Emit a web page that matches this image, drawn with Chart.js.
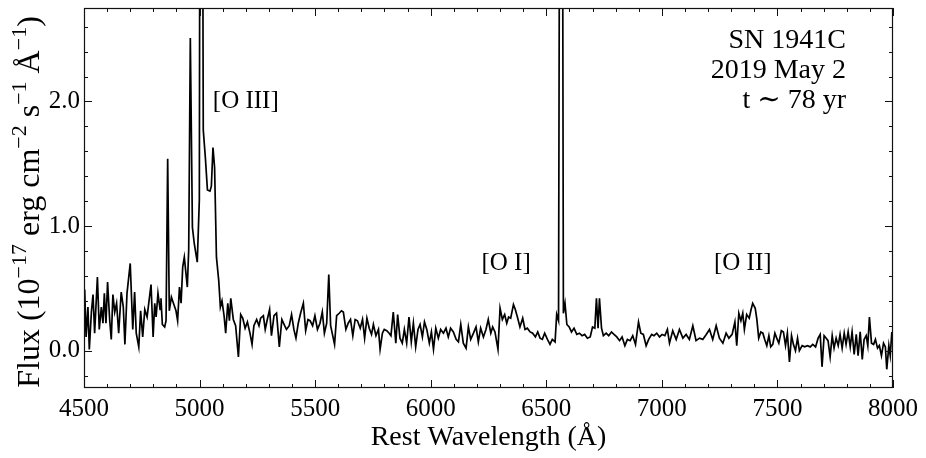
<!DOCTYPE html>
<html>
<head>
<meta charset="utf-8">
<script src="https://cdn.jsdelivr.net/npm/chart.js@4.4.1/dist/chart.umd.min.js"></script>
<style>
  html, body { margin: 0; padding: 0; background: #fff; }
</style>
</head>
<body>
<canvas id="chart" width="926" height="458"></canvas>
<script>
// rest wavelength (A) and flux (1e-17 erg/cm2/s/A)
const wave = [
  4503, 4509, 4517, 4523, 4532, 4539, 4546, 4558, 4566, 4575, 4582, 4588, 4595, 4602, 4611, 4618,
  4625, 4633, 4641, 4650, 4661, 4670, 4677, 4686, 4700, 4711, 4719, 4726, 4737, 4745, 4754, 4763,
  4773, 4780, 4790, 4799, 4806, 4812, 4820, 4829, 4833, 4839, 4849, 4855, 4862, 4869, 4878, 4887,
  4898, 4905, 4913, 4920, 4927, 4934, 4940, 4947, 4953, 4960, 4969, 4977, 4990, 4999, 5003, 5010,
  5016, 5025, 5034, 5045, 5051, 5058, 5065, 5073, 5083, 5090, 5097, 5106, 5113, 5122, 5129, 5135,
  5146, 5156, 5168, 5178, 5187, 5197, 5207, 5218, 5227, 5235, 5247, 5257, 5264, 5276, 5284, 5293,
  5303, 5311, 5322, 5333, 5345, 5356, 5368, 5376, 5388, 5398, 5408, 5417, 5427, 5437, 5449, 5459,
  5469, 5478, 5489, 5499, 5510, 5521, 5531, 5540, 5550, 5559, 5567, 5576, 5584, 5593, 5604, 5614,
  5622, 5633, 5643, 5653, 5663, 5673, 5683, 5695, 5705, 5714, 5724, 5734, 5744, 5752, 5763, 5774,
  5781, 5791, 5799, 5810, 5820, 5828, 5838, 5849, 5857, 5867, 5877, 5886, 5896, 5906, 5916, 5925,
  5935, 5945, 5954, 5964, 5973, 5983, 5994, 6003, 6012, 6022, 6033, 6043, 6055, 6066, 6076, 6086,
  6098, 6110, 6120, 6130, 6141, 6153, 6163, 6173, 6185, 6196, 6206, 6216, 6228, 6239, 6249, 6260,
  6268, 6278, 6291, 6300, 6310, 6320, 6329, 6337, 6346, 6358, 6366, 6375, 6386, 6398, 6408, 6418,
  6430, 6441, 6453, 6463, 6473, 6483, 6493, 6505, 6516, 6526, 6538, 6545, 6553, 6560, 6568, 6574,
  6581, 6589, 6599, 6609, 6620, 6632, 6643, 6655, 6666, 6678, 6690, 6700, 6710, 6717, 6724, 6730,
  6739, 6747, 6759, 6770, 6782, 6793, 6805, 6817, 6828, 6840, 6851, 6863, 6874, 6886, 6899, 6909,
  6920, 6932, 6943, 6956, 6966, 6978, 6990, 7001, 7013, 7024, 7033, 7047, 7062, 7076, 7091, 7105,
  7119, 7134, 7148, 7163, 7177, 7192, 7206, 7220, 7235, 7249, 7264, 7278, 7290, 7304, 7316, 7324,
  7333, 7342, 7350, 7357, 7367, 7378, 7386, 7393, 7404, 7411, 7419, 7428, 7437, 7445, 7454, 7463,
  7471, 7480, 7489, 7497, 7506, 7517, 7526, 7535, 7543, 7552, 7561, 7569, 7578, 7587, 7595, 7607,
  7618, 7630, 7642, 7653, 7665, 7676, 7685, 7693, 7702, 7711, 7719, 7728, 7737, 7745, 7754, 7763,
  7771, 7780, 7789, 7797, 7806, 7815, 7823, 7832, 7841, 7849, 7858, 7867, 7875, 7884, 7891, 7898,
  7907, 7916, 7924, 7933, 7941, 7950, 7959, 7967, 7973, 7982, 7988, 7995, 8002
];
const flux = [
  0.49, 0.11, 0.35, 0.01, 0.31, 0.45, 0.14, 0.59, 0.17, 0.35, 0.22, 0.46, 0.22, 0.55, 0.25, 0.09,
  0.45, 0.31, 0.38, 0.14, 0.47, 0.35, 0.05, 0.46, 0.70, 0.17, 0.47, 0.14, 0.03, 0.32, 0.11, 0.33,
  0.27, 0.38, 0.53, 0.11, 0.38, 0.27, 0.46, 0.33, 0.42, 0.21, 0.19, 0.24, 1.54, 0.32, 0.43, 0.38,
  0.32, 0.24, 0.51, 0.38, 0.67, 0.75, 0.64, 0.51, 0.81, 2.51, 0.99, 0.86, 0.71, 1.21, 6.00, 6.00,
  1.77, 1.55, 1.29, 1.28, 1.32, 1.63, 1.47, 0.75, 0.56, 0.35, 0.40, 0.28, 0.14, 0.38, 0.24, 0.42,
  0.25, 0.20, -0.05, 0.29, 0.26, 0.18, 0.23, 0.14, 0.05, 0.20, 0.25, 0.20, 0.26, 0.28, 0.17, 0.25,
  0.33, 0.12, 0.28, 0.30, 0.03, 0.25, 0.20, 0.17, 0.20, 0.29, 0.17, 0.10, 0.22, 0.30, 0.38, 0.16,
  0.25, 0.24, 0.20, 0.28, 0.17, 0.22, 0.31, 0.14, 0.22, 0.61, 0.20, 0.12, 0.05, 0.28, 0.30, 0.32,
  0.31, 0.17, 0.22, 0.25, 0.12, 0.25, 0.24, 0.18, 0.25, 0.10, 0.26, 0.18, 0.13, 0.21, 0.12, 0.17,
  0.01, 0.14, 0.17, 0.16, 0.14, 0.12, 0.31, 0.06, 0.29, 0.10, 0.06, 0.17, 0.06, 0.27, 0.07, 0.22,
  0.03, 0.17, 0.21, 0.11, 0.23, 0.17, 0.06, 0.15, 0.01, 0.18, 0.10, 0.17, 0.14, 0.18, 0.11, 0.18,
  0.15, 0.09, 0.07, 0.21, 0.06, 0.02, 0.19, 0.09, 0.14, 0.19, 0.07, 0.18, 0.11, 0.17, 0.25, 0.14,
  0.19, 0.15, 0.01, 0.34, 0.25, 0.29, 0.22, 0.27, 0.26, 0.37, 0.33, 0.27, 0.19, 0.26, 0.17, 0.18,
  0.15, 0.14, 0.11, 0.15, 0.10, 0.09, 0.14, 0.09, 0.05, 0.09, 0.07, 0.29, 0.24, 6.00, 6.00, 0.30,
  0.38, 0.21, 0.19, 0.15, 0.18, 0.13, 0.14, 0.12, 0.13, 0.10, 0.11, 0.19, 0.18, 0.42, 0.18, 0.42,
  0.18, 0.12, 0.14, 0.12, 0.15, 0.13, 0.11, 0.08, 0.11, 0.04, 0.09, 0.08, 0.12, 0.05, 0.23, 0.14,
  0.13, 0.04, 0.09, 0.13, 0.12, 0.14, 0.11, 0.13, 0.12, 0.17, 0.06, 0.16, 0.09, 0.17, 0.10, 0.13,
  0.09, 0.20, 0.08, 0.10, 0.09, 0.13, 0.17, 0.09, 0.20, 0.10, 0.06, 0.14, 0.10, 0.13, 0.23, 0.04,
  0.30, 0.24, 0.30, 0.17, 0.29, 0.26, 0.33, 0.38, 0.34, 0.25, 0.10, 0.15, 0.14, 0.09, 0.04, 0.12,
  0.03, 0.05, 0.14, 0.10, 0.06, 0.16, 0.15, 0.04, 0.14, -0.09, 0.12, 0.05, 0.00, 0.10, 0.00, 0.04,
  0.03, 0.04, 0.03, 0.05, 0.03, 0.10, 0.13, -0.13, 0.12, 0.10, 0.08, -0.05, 0.12, 0.02, 0.10, 0.04,
  0.13, 0.02, 0.14, 0.05, 0.15, 0.03, 0.15, -0.03, 0.13, -0.04, 0.15, -0.07, 0.09, 0.12, 0.04, 0.27,
  0.06, 0.05, 0.09, 0.02, 0.04, -0.04, 0.06, 0.03, -0.15, 0.04, -0.04, 0.15, 0.03
];

const xTicks = [
  4500, 4600, 4700, 4800, 4900, 5000, 5100, 5200, 5300, 5400, 5500, 5600, 5700, 5800, 5900, 6000,
  6100, 6200, 6300, 6400, 6500, 6600, 6700, 6800, 6900, 7000, 7100, 7200, 7300, 7400, 7500, 7600,
  7700, 7800, 7900, 8000
];
const xLabels = [4500, 5000, 5500, 6000, 6500, 7000, 7500, 8000];
const yTicks = [-0.2, 0, 0.2, 0.4, 0.6, 0.8, 1, 1.2, 1.4, 1.6, 1.8, 2, 2.2, 2.4, 2.6];
const yLabels = [0, 1, 2];

const lineNames = ['[O III]', '[O I]', '[O II]'];
const lineNameX = [5200, 6326, 7350];
const lineNameY = [2.0, 0.7, 0.7];
const infoLines = ['SN 1941C', '2019 May 2', 't \u223C 78 yr'];
// y title pieces: [text, superscript?]
const yTitle = [
  ['Flux (10', false], ['\u221217', true], [' erg cm', false], ['\u22122', true],
  [' s', false], ['\u22121', true], [' \u00C5', false], ['\u22121', true], [')', false]
];

const SERIF = '"Liberation Serif", "Times New Roman", "DejaVu Serif", serif';

// inward ticks on all four sides + box
const frameTicks = {
  id: 'frameTicks',
  afterDatasetsDraw(chart) {
    const { ctx, chartArea: a, scales: { x, y } } = chart;
    ctx.save();
    ctx.strokeStyle = '#111';
    ctx.lineWidth = 1;
    ctx.beginPath();
    xTicks.forEach((v) => {
      const px = Math.round(x.getPixelForValue(v)) + 0.5;
      const len = xLabels.includes(v) ? 8 : 4;
      ctx.moveTo(px, a.bottom); ctx.lineTo(px, a.bottom - len);
      ctx.moveTo(px, a.top); ctx.lineTo(px, a.top + len);
    });
    yTicks.forEach((v) => {
      const py = Math.round(y.getPixelForValue(v)) + 0.5;
      const len = yLabels.includes(v) ? 8 : 4;
      ctx.moveTo(a.left, py); ctx.lineTo(a.left + len, py);
      ctx.moveTo(a.right, py); ctx.lineTo(a.right - len, py);
    });
    ctx.stroke();
    ctx.lineWidth = 1.2;
    ctx.strokeRect(a.left + 0.5, a.top + 0.5, a.width - 1, a.height - 1);
    ctx.restore();
  }
};

const labels = {
  id: 'labels',
  afterDraw(chart) {
    const { ctx, chartArea: a, scales: { x, y } } = chart;
    ctx.save();
    ctx.fillStyle = '#000';
    ctx.font = '25px ' + SERIF;
    ctx.textAlign = 'center';
    ctx.textBaseline = 'middle';
    lineNames.forEach((t, i) => {
      ctx.fillText(t, x.getPixelForValue(lineNameX[i]), y.getPixelForValue(lineNameY[i]));
    });

    ctx.font = '28px ' + SERIF;
    ctx.textAlign = 'right';
    ctx.textBaseline = 'alphabetic';
    infoLines.forEach((t, i) => {
      ctx.fillText(t, a.right - 47, a.top + 40 + i * 30);
    });

    // rotated y title with superscripts
    const main = '32px ' + SERIF, sup = '22px ' + SERIF;
    let w = 0;
    yTitle.forEach(([t, s]) => { ctx.font = s ? sup : main; w += ctx.measureText(t).width; });
    ctx.translate(39, (a.top + a.bottom) / 2 + 4);
    ctx.rotate(-Math.PI / 2);
    ctx.textAlign = 'left';
    let cx = -w / 2;
    yTitle.forEach(([t, s]) => {
      ctx.font = s ? sup : main;
      ctx.fillText(t, cx, s ? -13 : 0);
      cx += ctx.measureText(t).width;
    });
    ctx.restore();
  }
};

new Chart(document.getElementById('chart'), {
  type: 'line',
  data: {
    datasets: [{
      data: wave.map((w, i) => ({ x: w, y: flux[i] })),
      borderColor: '#000',
      borderWidth: 1.7,
      pointRadius: 0,
      tension: 0,
      fill: false
    }]
  },
  options: {
    responsive: false,
    animation: false,
    layout: { padding: { top: 8, right: 33, left: 0, bottom: 0 } },
    plugins: { legend: { display: false }, tooltip: { enabled: false } },
    scales: {
      x: {
        type: 'linear',
        min: 4500,
        max: 8000,
        afterBuildTicks: (s) => { s.ticks = xLabels.map((v) => ({ value: v })); },
        afterFit: (s) => { s.height = 70; s.paddingLeft = 0; s.paddingRight = 0; },
        grid: { display: false, drawTicks: false },
        border: { display: false },
        ticks: {
          color: '#000',
          padding: 6,
          maxRotation: 0,
          autoSkip: false,
          font: { family: SERIF, size: 25 },
          callback: (v) => String(v)
        },
        title: {
          display: true,
          text: 'Rest Wavelength (\u00C5)',
          color: '#000',
          font: { family: SERIF, size: 28 },
          padding: { top: 0, bottom: 4 }
        }
      },
      y: {
        min: -0.3,
        max: 2.75,
        afterBuildTicks: (s) => { s.ticks = yLabels.map((v) => ({ value: v })); },
        afterFit: (s) => { s.width = 84; s.paddingTop = 0; s.paddingBottom = 0; },
        grid: { display: false, drawTicks: false },
        border: { display: false },
        ticks: {
          color: '#000',
          padding: 4,
          font: { family: SERIF, size: 25 },
          callback: (v) => v.toFixed(1)
        }
      }
    }
  },
  plugins: [frameTicks, labels]
});
</script>
</body>
</html>
